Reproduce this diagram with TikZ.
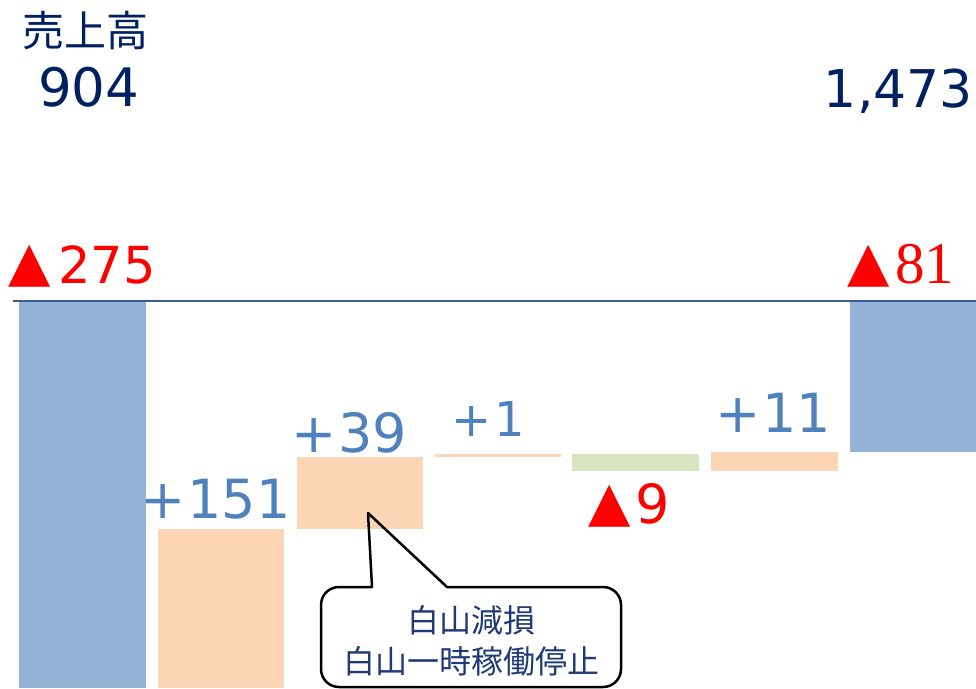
\documentclass[tikz,border=0pt]{standalone}
\usepackage{fontspec}
\setmainfont{DejaVu Sans}
\newfontfamily\cjk{Noto Sans CJK JP}
\newfontfamily\serifnum{Liberation Serif}
\definecolor{navy}{HTML}{002060}
\definecolor{calltext}{HTML}{1F3A75}
\definecolor{lblue}{HTML}{4F81BD}
\definecolor{barblue}{HTML}{95B3D7}
\definecolor{peach}{HTML}{FCD5B5}
\definecolor{bargreen}{HTML}{D7E4BD}
\definecolor{axiscol}{HTML}{3A5F8F}
\definecolor{redc}{HTML}{FF0000}
\begin{document}
\begin{tikzpicture}[x=1pt,y=-1pt,
  barfill/.style={fill=#1,draw=none},
  biglbl/.style={inner sep=0pt,font=\fontsize{54}{60}\selectfont},
  totallbl/.style={biglbl,text=navy},
  neglbl/.style={biglbl,text=redc},
  poslbl/.style={biglbl,text=lblue},
  trilbl/.style={inner sep=0pt,text=redc,font=\fontsize{55}{60}\selectfont},
  calloutline/.style={draw=black,line width=2.5pt,line join=round}
]
\useasboundingbox (0,0) rectangle (976,688);
% bars
\fill[barfill=barblue] (19,302) rectangle (146,688);
\fill[barfill=peach] (158,529) rectangle (284,688);
\fill[barfill=peach] (297,457) rectangle (423,529);
\fill[barfill=peach] (435,454) rectangle (561,457);
\fill[barfill=bargreen] (572,454) rectangle (699,471);
\fill[barfill=peach] (711,452) rectangle (838,471);
\fill[barfill=barblue] (850,302) rectangle (976,452);
% axis line
\coordinate (axL) at (13,301);
\coordinate (axR) at (976,301);
\draw[axiscol,line width=2pt] (axL) -- (axR);
% header texts
\node[inner sep=0pt,text=navy,font=\cjk\fontsize{42}{46}\selectfont] (uriage) at (85,31) {売上高};
\node[totallbl,anchor=base west,font=\fontsize{53}{58}\selectfont] (v904) at (38,106) {904};
\node[totallbl,anchor=base east,font=\fontsize{52}{58}\selectfont] (v1473) at (973,107) {1,473};
% negative labels
\node[trilbl,anchor=base west] (t275) at (8,280) {▲};
\node[neglbl,anchor=base west,font=\fontsize{51}{56}\selectfont] (v275) at (58,283) {275};
\node[trilbl,anchor=base west] (t81) at (847,280) {▲};
\node[neglbl,anchor=base west,font=\serifnum\fontsize{59}{62}\selectfont] (v81) at (895,283) {81};
\node[trilbl,anchor=base west] (t9) at (588,520) {▲};
\node[neglbl,anchor=base west] (v9) at (635,523) {9};
% positive labels
\node[poslbl,anchor=base west] (v151) at (140,518) {+\kern2pt151};
\node[poslbl,anchor=base west] (v39) at (291,452) {+\kern2pt39};
\node[poslbl,anchor=base west,font=\fontsize{48}{52}\selectfont] (v1) at (451,436) {+\kern3pt1};
\node[poslbl,anchor=base west] (v11) at (715,432) {+\kern2pt11};
% callout
\coordinate (tip) at (368,513);
\draw[calloutline] (372,587) -- (tip) -- (447,587) -- (603,587)
  .. controls (613,587) and (621,595) .. (621,605) -- (621,669)
  .. controls (621,679) and (613,687) .. (603,687) -- (339,687)
  .. controls (329,687) and (321,679) .. (321,669) -- (321,605)
  .. controls (321,595) and (329,587) .. (339,587) -- cycle;
\node[inner sep=0pt,align=center,text=calltext,font=\cjk\fontsize{32}{41}\selectfont] (ctext) at (471,641) {白山減損\\白山一時稼働停止};
\end{tikzpicture}
\end{document}
